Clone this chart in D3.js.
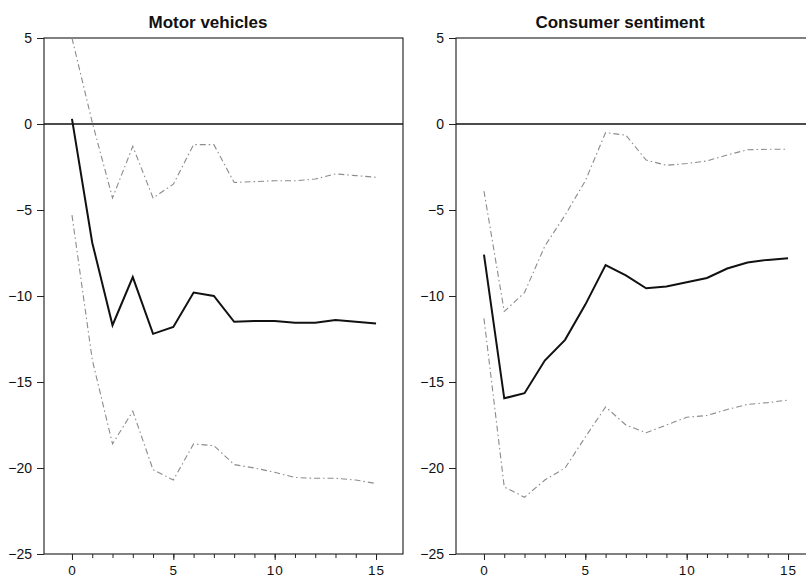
<!DOCTYPE html>
<html>
<head>
<meta charset="utf-8">
<script src="https://cdn.jsdelivr.net/npm/d3@7"></script>
<style>
  html, body { margin: 0; padding: 0; background: #fff; }
  svg { display: block; }
  text { font-family: "Liberation Sans", Arial, sans-serif; fill: #111; }
</style>
</head>
<body>
<svg id="chart" width="806" height="579"></svg>
<script>
// Impulse-response horizons
const horizons = d3.range(0, 16);

// Motor vehicles: point estimate and confidence band
const motorResponse = [0.3, -6.9, -11.7, -8.9, -12.2, -11.8, -9.8, -10.0, -11.5, -11.45, -11.45, -11.55, -11.55, -11.4, -11.5, -11.6];
const motorUpper    = [5.0, 0.1, -4.3, -1.3, -4.3, -3.5, -1.2, -1.2, -3.4, -3.35, -3.3, -3.3, -3.2, -2.9, -3.0, -3.1];
const motorLower    = [-5.3, -13.7, -18.6, -16.7, -20.1, -20.7, -18.6, -18.7, -19.8, -20.0, -20.25, -20.55, -20.6, -20.6, -20.7, -20.9];

// Consumer sentiment: point estimate and confidence band
const sentimentResponse = [-7.6, -15.95, -15.65, -13.75, -12.55, -10.5, -8.2, -8.8, -9.55, -9.45, -9.2, -8.95, -8.4, -8.05, -7.9, -7.8];
const sentimentUpper    = [-3.9, -10.9, -9.8, -7.1, -5.3, -3.3, -0.5, -0.65, -2.1, -2.4, -2.3, -2.15, -1.8, -1.5, -1.47, -1.47];
const sentimentLower    = [-11.3, -21.1, -21.7, -20.7, -20.0, -18.2, -16.45, -17.5, -17.95, -17.5, -17.05, -16.95, -16.6, -16.3, -16.2, -16.05];

// Axis ticks
const yTicks = [5, 0, -5, -10, -15, -20, -25];
const xMajorTicks = [0, 5, 10, 15];

const panels = [
  { title: "Motor vehicles", response: motorResponse, upper: motorUpper, lower: motorLower, left: 44 },
  { title: "Consumer sentiment", response: sentimentResponse, upper: sentimentUpper, lower: sentimentLower, left: 456 }
];

const svg = d3.select("#chart");
const panelWidth = 359;
const plotTop = 38, plotBottom = 554;

const y = d3.scaleLinear().domain([-25, 5]).range([plotBottom, plotTop]);
const x = d3.scaleLinear().domain([-1.38, 16.33]).range([0, panelWidth]);

panels.forEach((p, i) => {
  const g = svg.append("g").attr("transform", `translate(${p.left},0)`);

  const clipId = "clip" + i;
  g.append("clipPath").attr("id", clipId)
    .append("rect").attr("x", 0).attr("y", plotTop).attr("width", panelWidth).attr("height", plotBottom - plotTop);

  // frame
  g.append("rect")
    .attr("x", 0).attr("y", plotTop)
    .attr("width", panelWidth).attr("height", plotBottom - plotTop)
    .attr("fill", "none").attr("stroke", "#1a1a1a").attr("stroke-width", 1.1);

  // zero line
  g.append("line")
    .attr("x1", 0).attr("x2", panelWidth)
    .attr("y1", y(0)).attr("y2", y(0))
    .attr("stroke", "#111").attr("stroke-width", 1.3);

  // y axis
  const yAxis = d3.axisLeft(y).tickValues(yTicks).tickSize(7).tickPadding(5)
    .tickFormat(d3.format("d"));
  const ya = g.append("g").call(yAxis);
  ya.select(".domain").remove();
  ya.selectAll("line").attr("stroke", "#222");
  ya.selectAll("text").style("font-size", "14px").attr("font-family", "Liberation Sans, Arial, sans-serif");

  // x axis: minor ticks every step, longer ticks with labels every 5
  const xa = g.append("g").attr("transform", `translate(0,${plotBottom})`);
  const xMinor = d3.axisBottom(x).tickValues(horizons).tickSize(4).tickFormat("");
  xa.append("g").call(xMinor).call(s => s.select(".domain").remove())
    .selectAll("line").attr("stroke", "#222");
  const xMajor = d3.axisBottom(x).tickValues(xMajorTicks).tickSize(6).tickPadding(5)
    .tickFormat(d3.format("d"));
  const xm = xa.append("g").call(xMajor);
  xm.select(".domain").remove();
  xm.selectAll("line").attr("stroke", "#222");
  xm.selectAll("text").style("font-size", "13.5px").style("letter-spacing", "1px")
    .attr("font-family", "Liberation Sans, Arial, sans-serif");

  // title
  g.append("text")
    .attr("x", 164).attr("y", 28)
    .attr("text-anchor", "middle")
    .style("font-size", "17px").style("font-weight", "bold")
    .text(p.title);

  const line = d3.line().x((d, j) => x(horizons[j])).y(d => y(d));
  const plot = g.append("g").attr("clip-path", `url(#${clipId})`);

  [p.upper, p.lower].forEach(band => {
    plot.append("path")
      .datum(band)
      .attr("d", line)
      .attr("fill", "none")
      .attr("stroke", "#8c8c8c")
      .attr("stroke-width", 1.1)
      .attr("stroke-dasharray", "6,3,1.5,3");
  });

  plot.append("path")
    .datum(p.response)
    .attr("d", line)
    .attr("fill", "none")
    .attr("stroke", "#111")
    .attr("stroke-width", 2)
    .attr("stroke-linejoin", "miter");
});
</script>
</body>
</html>
